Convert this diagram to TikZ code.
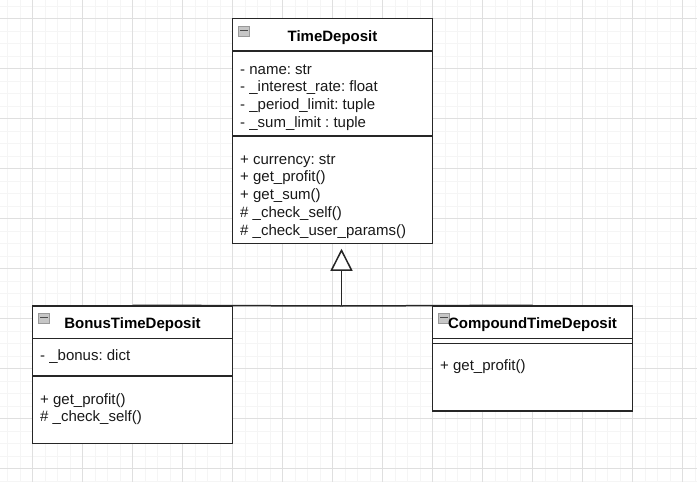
\documentclass[tikz,border=0pt]{standalone}
\usepackage{fontspec}
\setmainfont{Liberation Sans}
\usetikzlibrary{arrows.meta}

\tikzset{
  gridminor/.style={draw=gray!8, line width=0.8pt},
  gridmajor/.style={draw=gray!25, line width=0.8pt},
  classbox/.style={draw=black!85, line width=1.5pt, fill=white, inner sep=0pt},
  divider/.style={draw=black!85, line width=1.5pt},
  title/.style={font=\fontsize{15}{18}\selectfont\bfseries, inner sep=0pt, anchor=base},
  member/.style={font=\fontsize{15}{18}\selectfont, inner sep=0pt, anchor=base west, text=black!90},
  inherit/.style={draw=black!85, line width=1.5pt},
}

% small collapse marker in a class header
\newcommand{\collapsemark}[2]{%
  \draw[draw=gray!80, fill=gray!45, line width=1pt] (#1,#2) rectangle ++(10.5,10);
  \draw[draw=black!70, line width=1.4pt] ({#1+1.5},{#2+4.5}) -- ({#1+9},{#2+4.5});
}

\begin{document}
\frenchspacing
\begin{tikzpicture}[x=1pt, y=-1pt]
  \useasboundingbox (0,0) rectangle (697,482);
  \fill[white] (0,0) rectangle (697,482);

  % background grid
  \foreach \i in {0,...,55} \draw[gridminor] ({7.5+12.5*\i},0) -- ({7.5+12.5*\i},482);
  \foreach \i in {0,...,38} \draw[gridminor] (0,{6+12.5*\i}) -- (697,{6+12.5*\i});
  \foreach \i in {0,...,13} \draw[gridmajor] ({32.5+50*\i},0) -- ({32.5+50*\i},482);
  \foreach \i in {0,...,9} \draw[gridmajor] (0,{18.5+50*\i}) -- (697,{18.5+50*\i});

  % ---- TimeDeposit ----
  \node[classbox, minimum width=200pt, minimum height=225pt] (td) at (332.5,131) {};
  \draw[divider] (232.5,51) -- (432.5,51);
  \draw[divider] (232.5,136) -- (432.5,136);
  \collapsemark{238.5}{26}
  \node[title] (tdtitle) at (332.5,41) {TimeDeposit};
  \node[member] (tda1) at (240,74) {- name: str};
  \node[member] (tda2) at (240,91.7) {- \_interest\_rate: float};
  \node[member] (tda3) at (240,109.4) {- \_period\_limit: tuple};
  \node[member] (tda4) at (240,127.1) {- \_sum\_limit : tuple};
  \node[member] (tdm1) at (240,164) {+ currency: str};
  \node[member] (tdm2) at (240,181.75) {+ get\_profit()};
  \node[member] (tdm3) at (240,199.5) {+ get\_sum()};
  \node[member] (tdm4) at (240,217.25) {\# \_check\_self()};
  \node[member] (tdm5) at (240,235) {\# \_check\_user\_params()};

  % ---- BonusTimeDeposit ----
  \node[classbox, minimum width=200pt, minimum height=137.5pt] (bonus) at (132.5,374.75) {};
  \draw[divider] (32.5,338.5) -- (232.5,338.5);
  \draw[divider] (32.5,376) -- (232.5,376);
  \collapsemark{38.5}{313}
  \node[title] (bonustitle) at (132.5,328.3) {BonusTimeDeposit};
  \node[member] (bonusa1) at (40,360.7) {- \_bonus: dict};
  \node[member] (bonusm1) at (40,404) {+ get\_profit()};
  \node[member] (bonusm2) at (40,421.7) {\# \_check\_self()};

  % ---- CompoundTimeDeposit ----
  \node[classbox, minimum width=200pt, minimum height=105pt] (comp) at (532.5,358.5) {};
  \draw[divider] (432.5,338.5) -- (632.5,338.5);
  \draw[divider] (432.5,343.5) -- (632.5,343.5);
  \collapsemark{438.5}{313}
  \node[title] (comptitle) at (532.5,328.3) {CompoundTimeDeposit};
  \node[member] (compm1) at (440,370.7) {+ get\_profit()};

  % ---- generalisation ----
  \coordinate (join) at (341.5,306);
  \draw[inherit] (bonus.north) -- (join);
  \draw[inherit] (comp.north) -- (join);
  \draw[inherit, -{Triangle[length=22pt, width=22pt, fill=white]}, shorten >=4.5pt]
    (join) -- (join |- td.south);
\end{tikzpicture}
\end{document}
